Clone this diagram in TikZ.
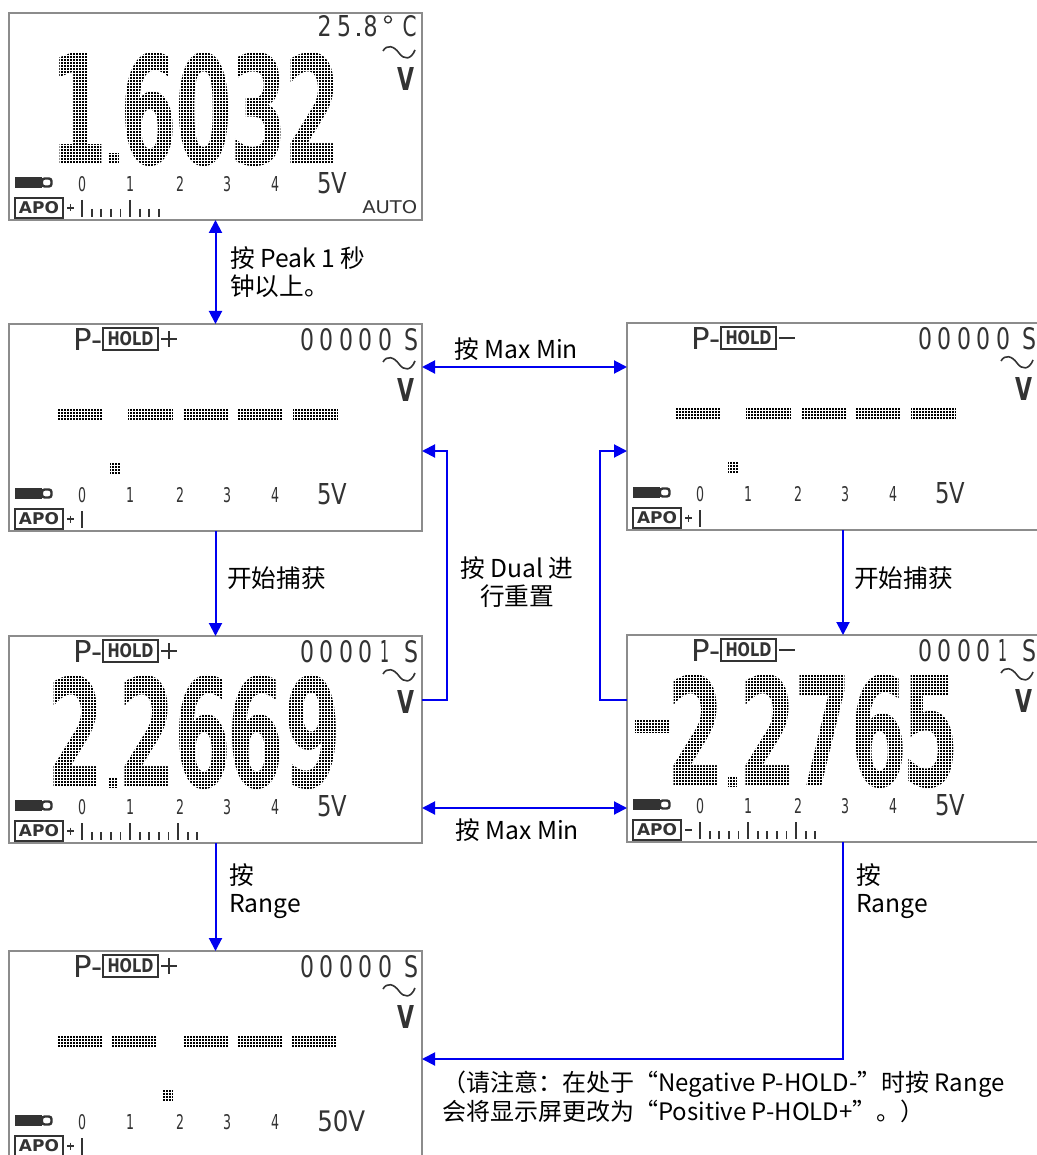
\documentclass[tikz,border=0pt]{standalone}
\usepackage{fontspec}
\setmainfont{Noto Sans CJK SC}
\newfontfamily\lcdfnt{DejaVu Sans}
\usetikzlibrary{arrows.meta}
\newlength{\upx}\setlength{\upx}{0.75pt}
\tikzset{
  screen/.style={draw=black!45, line width=1.1\upx, minimum width=413\upx, minimum height=207\upx,
    inner sep=0pt, outer sep=0pt, anchor=north west, fill=white},
  flow/.style={draw={rgb,255:red,0;green,0;blue,240}, line width=2\upx,
    -{Triangle[length=9.75pt,width=9.75pt]}},
  twoway/.style={flow, {Triangle[length=9.75pt,width=9.75pt]}-{Triangle[length=9.75pt,width=9.75pt]}},
  lbl/.style={font=\fontsize{18.5}{21}\selectfont, inner sep=0pt, align=left},
  ink/.style={black!80},
  bigink/.style={black},
  dotgrid/.style={white, line width=0.3\upx, step=2.25pt},
}
% LCD helpers (local screen coordinates, pixels, y downwards)
\newcommand\lcdch[5]{\node[anchor=north,inner sep=0pt,text=black!80] at (#1,#2) {\resizebox{#3\upx}{#4\upx}{\lcdfnt #5}};}
\newcommand\bigdig[2]{\node[anchor=north,inner sep=0pt,text=black] at (#1,39) {\resizebox{57\upx}{112\upx}{\lcdfnt\bfseries #2}};}
\newcommand\lcdcount[2]{%
  \lcdch{298}{4}{14}{22}{0}\lcdch{317.5}{4}{14}{22}{0}\lcdch{337}{4}{14}{22}{0}%
  \lcdch{356.5}{4}{14}{22}{0}\lcdch{376}{4}{#2}{22}{#1}\lcdch{402}{4}{14}{22}{S}}
\newcommand\lcdunit{%
  \draw[ink, line width=1.6\upx] (374,38) .. controls (378,31) and (385,33) .. (390,40) .. controls (395,47) and (402,47) .. (406,37);
  \lcdch{397}{54}{17}{23}{\bfseries V}}
\newcommand\lcdhold[1]{%
  \node[anchor=north west, inner sep=0pt, text=black!80] at (64,4) {\resizebox{29\upx}{22\upx}{\lcdfnt P-}};
  \draw[ink, line width=1.4\upx] (94,4) rectangle (149,26);
  \node[inner sep=0pt,text=black!80] at (121.5,15) {\resizebox{46\upx}{14\upx}{\lcdfnt\bfseries HOLD}};
  \draw[ink, line width=1.6\upx] (152,15) -- (168,15);
  \ifnum#1=1 \draw[ink, line width=1.6\upx] (160,7) -- (160,23);\fi}
\newcommand\lcdscale[2]{%
  \fill[ink] (6,164) rectangle (33,175);
  \draw[ink, line width=2.4\upx, rounded corners=2pt] (33,165.5) rectangle (42.5,173.5);
  \lcdch{73}{163}{8}{15}{0}\lcdch{121}{163}{8}{15}{1}\lcdch{171}{163}{8}{15}{2}%
  \lcdch{218}{163}{8}{15}{3}\lcdch{266}{163}{8}{15}{4}%
  \node[anchor=north west,inner sep=0pt,text=black!80] at (308,159) {\resizebox{#2\upx}{21\upx}{\lcdfnt #1}};}
\newcommand\lcdapo[2]{%
  \draw[ink, line width=1.4\upx] (6,185) rectangle (54,205);
  \node[inner sep=0pt,text=black!80] at (30,195) {\resizebox{40\upx}{12\upx}{\lcdfnt\bfseries APO}};
  \draw[ink, line width=1.4\upx] (58,195) -- (65,195);
  \ifnum#1=1 \draw[ink, line width=1.4\upx] (61.5,191.5) -- (61.5,198.5);\fi
  \foreach \i in {1,...,#2} {%
    \pgfmathsetmacro\tx{73+9.6*(\i-1)}%
    \pgfmathtruncatemacro\tl{mod(\i-1,5)}%
    \ifnum\tl=0 \draw[ink, line width=1.8\upx] (\tx,187) -- (\tx,204);
    \else \draw[ink, line width=1.8\upx] (\tx,196) -- (\tx,204);\fi}}
\newcommand\lcddash[1]{\fill[bigink] (#1,84) rectangle ++(45,13);}
\begin{document}
\begin{tikzpicture}[x=0.75pt,y=-0.75pt]
\useasboundingbox (0,0) rectangle (1037,1155);

% ---------- screens ----------
\node[screen] (s1) at (9,13) {};
\node[screen] (s2) at (9,324) {};
\node[screen] (s3) at (627,323) {};
\node[screen] (s4) at (9,636) {};
\node[screen] (s5) at (627,635) {};
\node[screen] (s6) at (9,951) {};

% screen 1
\begin{scope}[shift={(s1.north west)}]
  \lcdch{315.5}{2}{14}{21}{2}\lcdch{335.5}{2}{14}{21}{5}
  \fill[ink] (347.5,20) rectangle ++(3,3);
  \lcdch{361.5}{2}{14}{21}{8}
  \draw[ink, line width=1.3\upx] (379,6.5) circle[radius=2.6pt];
  \lcdch{400.5}{2}{14}{21}{C}
  \lcdunit
  \bigdig{70}{1}\bigdig{140}{6}\bigdig{195}{0}\bigdig{250}{3}\bigdig{303.5}{2}
  \fill[bigink] (100,140) rectangle (110,151);
  \draw[dotgrid] (2,156) grid (332,36);
  \lcdscale{5V}{30}
  \lcdapo{1}{9}
  \node[anchor=north west,inner sep=0pt,text=black!80] at (353,187) {\resizebox{55\upx}{13\upx}{\lcdfnt AUTO}};
\end{scope}

% screen 2
\begin{scope}[shift={(s2.north west)}]
  \lcdhold{1}\lcdcount{0}{14}\lcdunit
  \lcddash{49}\lcddash{119}\lcddash{174}\lcddash{229}\lcddash{284}
  \fill[bigink] (101,139) rectangle (111,151);
  \draw[dotgrid] (40,154) grid (332,80);
  \lcdscale{5V}{30}
  \lcdapo{1}{1}
\end{scope}

% screen 3
\begin{scope}[shift={(s3.north west)}]
  \lcdhold{0}\lcdcount{0}{14}\lcdunit
  \lcddash{49}\lcddash{119}\lcddash{174}\lcddash{229}\lcddash{284}
  \fill[bigink] (101,139) rectangle (111,151);
  \draw[dotgrid] (40,154) grid (332,80);
  \lcdscale{5V}{30}
  \lcdapo{1}{1}
\end{scope}

% screen 4
\begin{scope}[shift={(s4.north west)}]
  \lcdhold{1}\lcdcount{1}{9}\lcdunit
  \bigdig{67.5}{2}\bigdig{138.5}{2}\bigdig{194.5}{6}\bigdig{247.5}{6}\bigdig{303.5}{9}
  \fill[bigink] (100,141) rectangle (109,152);
  \draw[dotgrid] (2,156) grid (332,36);
  \lcdscale{5V}{30}
  \lcdapo{1}{13}
\end{scope}

% screen 5
\begin{scope}[shift={(s5.north west)}]
  \lcdhold{0}\lcdcount{1}{9}\lcdunit
  \fill[bigink] (8,85) rectangle (43,98);
  \bigdig{69}{2}\bigdig{140.5}{2}\bigdig{195.5}{7}\bigdig{251.5}{6}\bigdig{304}{5}
  \fill[bigink] (101,141) rectangle (110,152);
  \draw[dotgrid] (2,156) grid (332,36);
  \lcdscale{5V}{30}
  \lcdapo{0}{13}
\end{scope}

% screen 6
\begin{scope}[shift={(s6.north west)}]
  \lcdhold{1}\lcdcount{0}{14}\lcdunit
  \lcddash{48}\lcddash{103}\lcddash{174}\lcddash{228}\lcddash{283}
  \fill[bigink] (154,139) rectangle (164,151);
  \draw[dotgrid] (40,154) grid (332,80);
  \lcdscale{50V}{48}
  \lcdapo{1}{1}
\end{scope}

% ---------- labels ----------
\node[lbl, anchor=west] (lpeak) at (230,272) {按 Peak 1 秒\\钟以上。};
\node[lbl] (lmm1) at (516,349) {按 Max Min};
\node[lbl, align=center] (ldual) at (517,582) {按 Dual 进\\行重置};
\node[lbl, anchor=west] (lcap1) at (227,578) {开始捕获};
\node[lbl, anchor=west] (lcap2) at (854,578) {开始捕获};
\node[lbl] (lmm2) at (517,830) {按 Max Min};
\node[lbl, anchor=west] (lr1) at (229,891) {按\\Range};
\node[lbl, anchor=west] (lr2) at (856,891) {按\\Range};
\node[lbl, anchor=west, font=\fontsize{18}{22}\selectfont] (note) at (442,1097) {（请注意：在处于“Negative P-HOLD-”时按 Range\\会将显示屏更改为“Positive P-HOLD+”。）};

% ---------- connectors ----------
\coordinate (cx) at (843,0);
\coordinate (ymm1) at (0,367);
\coordinate (ymm2) at (0,808);
\coordinate (dl1) at (447,700);
\coordinate (dl2) at (447,451);
\coordinate (dr1) at (600,700);
\coordinate (dr2) at (600,451);
\coordinate (rr) at (843,1059);

\draw[twoway] (s1.south) -- (s2.north);
\draw[flow] (s2.south) -- (s4.north);
\draw[flow] (s4.south) -- (s6.north);
\draw[flow] (s3.south -| cx) -- (s5.north -| cx);
\draw[twoway] (s2.east |- ymm1) -- (s3.west |- ymm1);
\draw[twoway] (s4.east |- ymm2) -- (s5.west |- ymm2);
\draw[flow] (s4.east |- dl1) -- (dl1) -- (dl2) -- (s2.east |- dl2);
\draw[flow] (s5.west |- dr1) -- (dr1) -- (dr2) -- (s3.west |- dr2);
\draw[flow] (s5.south -| cx) -- (rr) -- (s6.east |- rr);
\end{tikzpicture}
\end{document}
